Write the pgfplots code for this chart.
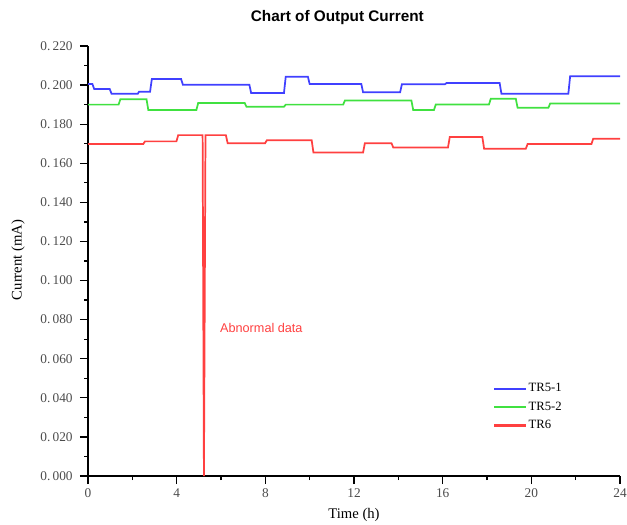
\documentclass[border=0pt]{standalone}
\usepackage{pgfplots}
\pgfplotsset{compat=1.18}
\usepackage{fontspec}
\setmainfont{Liberation Serif}
\newfontfamily\arialfont{Liberation Sans}
\definecolor{TRblue}{RGB}{64,64,255}
\definecolor{TRgreen}{RGB}{64,225,64}
\definecolor{TRred}{RGB}{255,64,64}
\begin{document}
\begin{tikzpicture}[x=1pt,y=1pt]
\begin{axis}[
  at={(66pt,36pt)}, anchor=south west,
  scale only axis, width=399pt, height=322.5pt,
  xmin=0, xmax=24, ymin=0, ymax=0.22,
  axis x line=bottom, axis y line=left,
  axis line style={-, line width=1.3pt},
  tick align=outside,
  major tick length=6pt, minor tick length=3pt,
  tick style={line width=1pt, black},
  xtick={0,4,8,12,16,20,24},
  minor x tick num=1,
  ytick={0,0.02,0.04,0.06,0.08,0.10,0.12,0.14,0.16,0.18,0.20,0.22},
  yticklabels={0.\,000,0.\,020,0.\,040,0.\,060,0.\,080,0.\,100,0.\,120,0.\,140,0.\,160,0.\,180,0.\,200,0.\,220},
  minor y tick num=1,
  tick label style={font=\fontsize{10}{12}\selectfont, text=black!70},
  yticklabel style={xshift=-2pt},
  /pgf/number format/assume math mode=true,
  legend style={at={(0.755,0.228)}, anchor=north west, draw=none, fill=none,
    font=\fontsize{9.5}{11}\selectfont, row sep=2pt},
  legend cell align=left,
  legend image code/.code={\fill[#1, draw=none] (0pt,-0.8pt) rectangle (24pt,0.8pt);},
  every axis plot/.append style={line width=1.3pt},
  clip=false
]
\addplot[TRblue] coordinates {
 (0,0.2005)(0.2,0.2005)(0.28,0.1980)(0.98,0.1980)(1.06,0.1956)(2.25,0.1956)
 (2.3,0.1966)(2.8,0.1966)(2.88,0.2031)(4.2,0.2031)(4.28,0.2002)(7.28,0.2002)
 (7.36,0.1959)(8.84,0.1959)(8.92,0.2043)(9.92,0.2043)(10.0,0.2005)(12.33,0.2005)
 (12.41,0.1963)(14.08,0.1963)(14.16,0.2004)(16.1,0.2004)(16.18,0.2011)(18.57,0.2011)
 (18.65,0.1956)(21.67,0.1956)(21.75,0.2045)(24,0.2045)
};
\addlegendentry{TR5-1}
\addplot[TRgreen] coordinates {
 (0,0.1900)(1.38,0.1900)(1.46,0.1927)(2.64,0.1927)(2.72,0.1873)(4.89,0.1873)
 (4.97,0.1908)(7.07,0.1908)(7.15,0.1889)(8.84,0.1889)(8.92,0.1900)(11.51,0.1900)
 (11.59,0.1921)(14.59,0.1921)(14.67,0.1873)(15.61,0.1873)(15.69,0.1901)(18.09,0.1901)
 (18.17,0.1930)(19.3,0.1930)(19.38,0.1884)(20.77,0.1884)(20.85,0.1906)(24,0.1906)
};
\addlegendentry{TR5-2}
\addplot[TRred] coordinates {
 (0,0.1698)(2.49,0.1698)(2.57,0.1712)(3.99,0.1712)(4.07,0.1744)(5.17,0.1744)
 (5.23,0)(5.3,0.1744)(6.22,0.1744)(6.3,0.1703)(7.99,0.1703)(8.07,0.1718)
 (10.09,0.1718)(10.17,0.1655)(12.41,0.1655)(12.49,0.1703)(13.69,0.1703)(13.77,0.1681)
 (16.24,0.1681)(16.32,0.1734)(17.79,0.1734)(17.87,0.1674)(19.75,0.1674)(19.83,0.1698)
 (22.71,0.1698)(22.79,0.1725)(24,0.1725)
};
\addlegendentry{TR6}
\node[anchor=west, text=TRred, font=\arialfont\fontsize{9.5}{11}\selectfont] at (axis cs:5.75,0.0755) {Abnormal data};
\end{axis}
\node[font=\arialfont\bfseries\fontsize{11.5}{14}\selectfont] at (253,379.5) {Chart of Output Current};
\node[font=\fontsize{11}{13}\selectfont] at (265.5,6.5) {Time (h)};
\node[rotate=90, font=\fontsize{11}{13}\selectfont] at (13.5,198) {Current (mA)};
% page frame: 627x524 px at 0.75pt per px
\pgfresetboundingbox
\path[use as bounding box] (0,0) rectangle (470.25,393);
\end{tikzpicture}
\end{document}
